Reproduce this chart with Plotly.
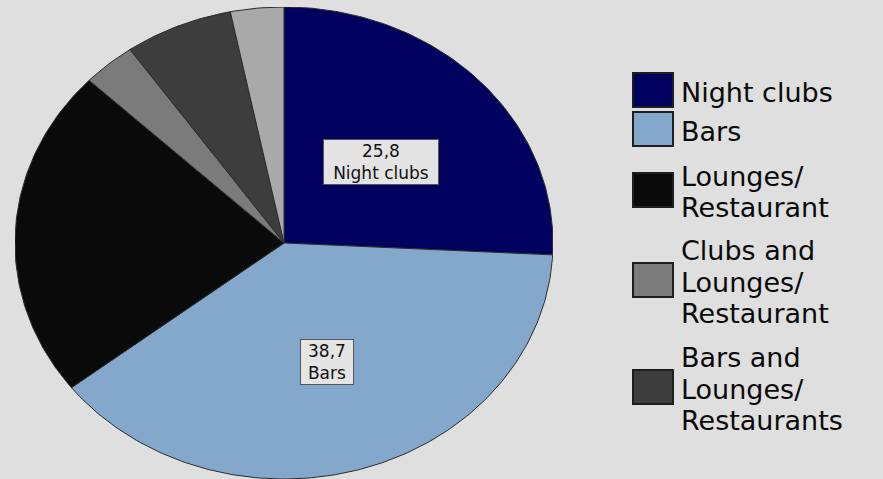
import math
import plotly.graph_objects as go

# Venue-type shares (%), clockwise from 12 o'clock
categories = [
    "Night clubs",
    "Bars",
    "Lounges/Restaurant",
    "Clubs and Lounges/Restaurant",
    "Bars and Lounges/Restaurants",
    "Night clubs and Bars",
]
values = [25.8, 38.7, 22.6, 3.2, 6.5, 3.2]
colors = ["#00005e", "#84a8cc", "#0a0a0a", "#7b7b7b", "#3d3d3d", "#a9a9a9"]

# Legend entries (text lines as printed)
legend_lines = [
    ["Night clubs"],
    ["Bars"],
    ["Lounges/", "Restaurant"],
    ["Clubs and", "Lounges/", "Restaurant"],
    ["Bars and", "Lounges/", "Restaurants"],
]
# Slices that carry a value label
labelled = ["Night clubs", "Bars"]

W, H = 883, 479
BG = "#dfdfdf"
FONT = "DejaVu Sans, Arial, sans-serif"

fig = go.Figure()

total = sum(values)
cum = 0.0
mids = {}
for name, v, c in zip(categories, values, colors):
    a0 = cum / total * 2 * math.pi
    a1 = (cum + v) / total * 2 * math.pi
    n = max(8, int(v * 4))
    xs = [0.0]
    ys = [0.0]
    for k in range(n + 1):
        t = a0 + (a1 - a0) * k / n
        xs.append(math.sin(t))
        ys.append(math.cos(t))
    xs.append(0.0)
    ys.append(0.0)
    fig.add_trace(go.Scatter(
        x=xs, y=ys, mode="lines", fill="toself", fillcolor=c,
        line=dict(color="#2b2b2b", width=1), name=name,
        hoverinfo="name", showlegend=False, cliponaxis=False,
    ))
    mids[name] = ((a0 + a1) / 2, v)
    cum += v

# Value labels inside the two largest slices
label_style = {
    "Night clubs": dict(r=0.5, width=112),
    "Bars": dict(r=0.53, width=50),
}
for name in labelled:
    ang, v = mids[name]
    st = label_style[name]
    txt = f"{v:.1f}".replace(".", ",") + "<br>" + name
    fig.add_annotation(
        x=st["r"] * math.sin(ang), y=st["r"] * math.cos(ang),
        xref="x", yref="y", text=txt, showarrow=False,
        font=dict(family=FONT, size=17, color="#111111"),
        bgcolor="#e4e4e4", bordercolor="#555555", borderwidth=1,
        borderpad=1, width=st["width"], align="center",
    )

# Manual legend on the right
def px(x):
    return x / W

def py(y):
    return 1 - y / H

item_centers = [92, 131, 192, 282, 389]
line_gap = 31.5
box_x0, box_x1 = 633, 673
text_x = 679
for lines, c, yc in zip(legend_lines, colors, item_centers):
    by = yc - 2
    fig.add_shape(
        type="rect", xref="paper", yref="paper",
        x0=px(box_x0), x1=px(box_x1), y0=py(by + 17), y1=py(by - 17),
        fillcolor=c, line=dict(color="#1e1e1e", width=2),
    )
    n = len(lines)
    for i, ln in enumerate(lines):
        ly = yc + (i - (n - 1) / 2) * line_gap
        fig.add_annotation(
            x=px(text_x), y=py(ly), xref="paper", yref="paper",
            text=ln, showarrow=False, xanchor="left", yanchor="middle",
            font=dict(family=FONT, size=27, color="#0a0a0a"),
        )

fig.update_layout(
    width=W, height=H,
    margin=dict(l=0, r=0, t=0, b=0),
    paper_bgcolor=BG, plot_bgcolor=BG,
    showlegend=False,
    xaxis=dict(range=[-1, 1], domain=[15 / W, 553 / W], visible=False,
               fixedrange=True),
    yaxis=dict(range=[-1, 1], domain=[0, 472 / H], visible=False,
               fixedrange=True),
)

fig.write_html("out.html")
